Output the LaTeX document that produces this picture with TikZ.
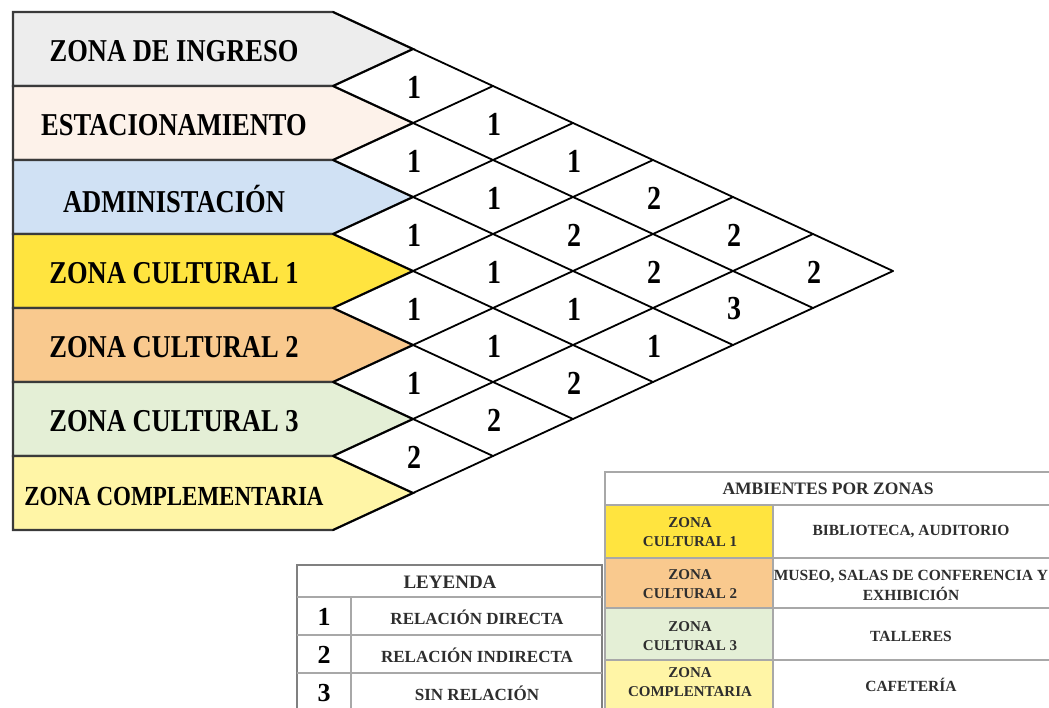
\documentclass[tikz,border=0pt]{standalone}
\usepackage{fontspec}
\setmainfont{Liberation Serif}
\usepackage{graphicx}
\newcommand\vstretch[2][1.2]{\scalebox{1}[#1]{#2}}
\definecolor{cIng}{HTML}{EDEDED}
\definecolor{cEst}{HTML}{FDF2EA}
\definecolor{cAdm}{HTML}{D0E1F4}
\definecolor{cZa}{HTML}{FFE43F}
\definecolor{cZb}{HTML}{F9C98E}
\definecolor{cZc}{HTML}{E4EFD6}
\definecolor{cZd}{HTML}{FFF5A6}
\definecolor{boxline}{HTML}{3A3A3A}
\definecolor{tgray}{HTML}{A8A8A8}
\definecolor{ttext}{HTML}{2E2E2E}
\begin{document}
\begin{tikzpicture}[x=1pt,y=-1pt,
  zlabel/.style={font=\fontsize{26.5}{30}\selectfont\bfseries, inner sep=0pt},
  num/.style={font=\fontsize{28}{30}\selectfont\bfseries, inner sep=0pt},
  gridline/.style={draw=black, line width=1.8pt, line cap=round},
  pent/.style={draw=boxline, line width=2.2pt, line join=miter},
  tline/.style={draw=tgray, line width=1.3pt},
  thead/.style={font=\fontsize{17.5}{20}\selectfont\bfseries, text=ttext, inner sep=0pt},
  tcell/.style={font=\fontsize{15.5}{20}\selectfont\bfseries, text=ttext, inner sep=0pt, align=center},
  lcell/.style={font=\fontsize{17}{20}\selectfont\bfseries, text=ttext, inner sep=0pt},
  zcell/.style={font=\fontsize{15}{19}\selectfont\bfseries, text=ttext, inner sep=0pt, align=center},
  digit/.style={font=\fontsize{26}{28}\selectfont\bfseries, inner sep=0pt}]
\useasboundingbox (0,0) rectangle (1049,707);
\fill[white] (0,0) rectangle (1049,707);
\begin{scope}
\clip (0,0) rectangle (1049,707);
% zone boxes
\foreach \i/\c in {0/cIng,1/cEst,2/cAdm,3/cZa,4/cZb,5/cZc,6/cZd}{
  \filldraw[pent, fill=\c] (13,{12+74*\i}) -- (333,{12+74*\i}) -- (413,{49+74*\i}) -- (333,{86+74*\i}) -- (13,{86+74*\i}) -- cycle;
}
\node[zlabel] (z0) at (174,51) {\vstretch{ZONA DE INGRESO}};
\node[zlabel] (z1) at (174,125) {\vstretch{ESTACIONAMIENTO}};
\node[zlabel] (z2) at (174,199) {\vstretch{ADMINISTACIÓN}};
\node[zlabel] (z3) at (174,273) {\vstretch{ZONA CULTURAL 1}};
\node[zlabel] (z4) at (174,347) {\vstretch{ZONA CULTURAL 2}};
\node[zlabel] (z5) at (174,421) {\vstretch{ZONA CULTURAL 3}};
\node[zlabel, font=\fontsize{23}{26}\selectfont\bfseries] (z6) at (174,496) {\vstretch{ZONA COMPLEMENTARIA}};
% diamond grid
\foreach \i in {0,...,6}
  \draw[gridline] (333,{12+74*\i}) -- ({333+80*(7-\i)},{12+74*\i+37*(7-\i)});
\foreach \k in {1,...,7}
  \draw[gridline] (333,{12+74*\k}) -- ({333+80*\k},{12+37*\k});
\foreach \i/\j/\v in {0/1/1,0/2/1,1/2/1,0/3/1,1/3/1,2/3/1,0/4/2,1/4/2,2/4/1,3/4/1,0/5/2,1/5/2,2/5/1,3/5/1,4/5/1,0/6/2,1/6/3,2/6/1,3/6/2,4/6/2,5/6/2}
  \node[num] (n\i\j) at ({334+80*(\j-\i)},{13+37*(\i+\j+1)}) {\vstretch{\v}};
% legend table
\draw[tline, draw=gray] (297,565) rectangle (602,715);
\draw[tline] (297,597) -- (602,597);
\draw[tline] (297,635) -- (602,635);
\draw[tline] (297,673) -- (602,673);
\draw[tline] (351,597) -- (351,715);
\node[thead, font=\fontsize{19}{20}\selectfont\bfseries] (ley) at (450,582) {LEYENDA};
\node[digit] (d1) at (324,617) {1};
\node[digit] (d2) at (324,655) {2};
\node[digit] (d3) at (324,693) {3};
\node[lcell] (r1) at (477,617) {RELACIÓN DIRECTA};
\node[lcell] (r2) at (477,655) {RELACIÓN INDIRECTA};
\node[lcell] (r3) at (477,693) {SIN RELACIÓN};
% ambientes table
\fill[cZa] (605,505) rectangle (773,558);
\fill[cZb] (605,558) rectangle (773,608);
\fill[cZc] (605,608) rectangle (773,660);
\fill[cZd] (605,660) rectangle (773,715);
\draw[tline] (605,472) rectangle (1060,715);
\draw[tline] (605,505) -- (1060,505);
\draw[tline] (605,558) -- (1060,558);
\draw[tline] (605,608) -- (1060,608);
\draw[tline] (605,660) -- (1060,660);
\draw[tline] (773,505) -- (773,715);
\node[thead] (amb) at (828,489) {AMBIENTES POR ZONAS};
\node[zcell] (a1) at (690,532) {ZONA\\CULTURAL 1};
\node[zcell] (a2) at (690,584) {ZONA\\CULTURAL 2};
\node[zcell] (a3) at (690,636) {ZONA\\CULTURAL 3};
\node[zcell] (a4) at (690,682) {ZONA\\COMPLENTARIA};
\node[tcell] (b1) at (911,532) {BIBLIOTECA, AUDITORIO};
\node[tcell] (b2) at (911,585) {MUSEO, SALAS DE CONFERENCIA Y\\EXHIBICIÓN};
\node[tcell] (b3) at (911,636) {TALLERES};
\node[tcell] (b4) at (911,685) {CAFETERÍA};
\end{scope}
\end{tikzpicture}
\end{document}
